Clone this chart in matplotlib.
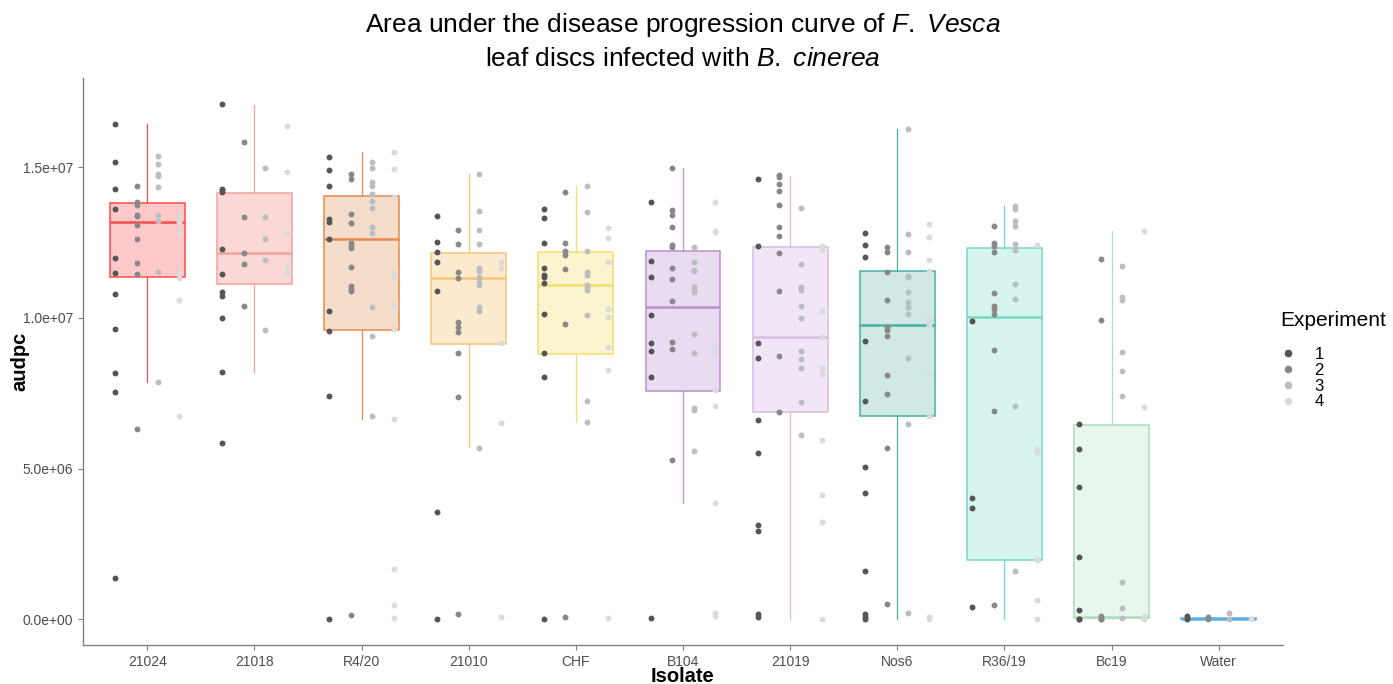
import numpy as np
import matplotlib.pyplot as plt
from matplotlib.lines import Line2D
from matplotlib.ticker import FuncFormatter

plt.rcParams['font.family'] = ['Liberation Sans', 'DejaVu Sans']
plt.rcParams['mathtext.fontset'] = 'custom'
plt.rcParams['mathtext.rm'] = 'Liberation Sans'
plt.rcParams['mathtext.it'] = 'Liberation Sans:italic'

# isolates and audpc values (x 1e6), one list per experiment 1..4
isolates = ['21024', '21018', 'R4/20', '21010', 'CHF', 'B104', '21019', 'Nos6', 'R36/19', 'Bc19', 'Water']
experiments = ['1', '2', '3', '4']

a21024 = [[16.43, 15.16, 14.29, 13.61, 11.98, 11.48, 10.79, 9.63, 8.16, 7.55, 1.37],
          [14.39, 13.86, 13.75, 13.40, 13.38, 13.07, 12.63, 11.81, 11.45, 6.30],
          [15.37, 15.09, 14.79, 14.72, 14.34, 13.40, 13.21, 11.51, 7.87],
          [13.38, 13.19, 12.82, 11.51, 11.31, 10.59, 6.73]]
a21018 = [[17.10, 14.29, 14.23, 14.18, 12.30, 11.46, 10.85, 10.73, 9.98, 8.20, 5.85],
          [15.84, 13.34, 12.15, 11.80, 10.38],
          [14.98, 13.36, 12.61, 11.91, 9.59],
          [16.38, 14.85, 12.82, 11.69, 11.48]]
aR420 = [[15.34, 14.90, 14.39, 13.28, 13.17, 12.63, 10.22, 9.55, 7.41, 0.0],
         [14.77, 14.61, 13.46, 13.16, 12.47, 12.40, 12.33, 11.68, 11.06, 10.96, 10.88, 0.15],
         [15.16, 14.97, 14.50, 14.39, 14.10, 13.89, 13.63, 13.02, 12.83, 10.37, 9.40, 6.75],
         [15.49, 14.93, 14.01, 11.48, 11.37, 10.42, 9.62, 6.65, 1.66, 0.46, 0.03]]
a21010 = [[13.39, 12.53, 12.17, 11.86, 10.88, 3.56, 0.0],
          [12.90, 12.44, 11.53, 11.32, 9.87, 9.70, 9.52, 8.83, 7.39, 0.17],
          [14.77, 13.54, 12.92, 12.46, 11.64, 11.54, 11.37, 11.19, 11.10, 10.36, 10.23, 5.67],
          [11.87, 11.64, 9.15, 6.50, 0.08]]
aCHF = [[13.61, 13.33, 12.48, 11.64, 11.43, 11.35, 11.15, 10.13, 8.82, 8.04, 0.0],
        [14.19, 12.48, 12.23, 12.08, 11.61, 9.79, 0.08],
        [14.39, 13.53, 12.22, 11.52, 11.43, 11.10, 11.01, 10.92, 10.10, 7.23, 6.53],
        [12.98, 12.66, 11.86, 10.30, 10.03, 9.04, 8.28, 0.03]]
aB104 = [[13.86, 11.88, 11.35, 10.10, 9.15, 8.91, 8.03, 0.03],
         [14.98, 13.58, 13.41, 13.03, 12.41, 12.35, 11.67, 11.28, 10.57, 9.20, 8.96, 5.27],
         [12.35, 11.86, 11.60, 11.57, 11.02, 10.94, 10.85, 9.48, 8.82, 7.02, 6.93, 5.58],
         [13.85, 12.89, 12.84, 9.10, 8.87, 7.62, 7.09, 3.86, 0.20, 0.12]]
a21019 = [[14.61, 12.39, 9.15, 8.67, 6.60, 5.53, 3.14, 2.94, 0.17, 0.06],
          [14.73, 14.68, 14.43, 14.21, 13.75, 13.03, 12.71, 12.15, 10.90, 8.75, 6.89],
          [13.65, 11.78, 11.04, 10.93, 10.39, 10.01, 8.91, 8.62, 8.33, 7.20, 6.11],
          [12.38, 12.24, 10.24, 9.36, 8.33, 8.13, 5.96, 4.12, 3.24, 0.0]]
aNos6 = [[12.83, 12.41, 12.03, 9.22, 7.24, 5.05, 4.18, 1.59, 0.17, 0.09, 0.0],
         [12.34, 12.20, 11.53, 10.59, 9.69, 9.61, 9.40, 8.09, 7.46, 5.67, 0.52],
         [16.26, 12.77, 12.17, 11.40, 11.37, 10.87, 10.52, 10.37, 10.14, 8.67, 6.49, 0.20],
         [13.10, 12.70, 11.91, 11.57, 10.03, 9.92, 9.78, 8.18, 6.75, 0.08, 0.0]]
aR3619 = [[9.90, 4.01, 3.68, 0.41],
          [13.06, 12.48, 12.40, 12.20, 10.82, 10.39, 10.28, 10.14, 8.93, 6.91, 0.46],
          [13.70, 13.62, 13.20, 13.06, 12.45, 12.26, 11.14, 10.63, 7.08, 1.61],
          [12.42, 5.64, 5.56, 1.98, 0.65, 0.0]]
aBc19 = [[6.47, 5.65, 4.40, 2.06, 0.31, 0.0, 0.0],
         [11.97, 9.94, 0.10, 0.02, 0.0],
         [11.73, 10.70, 10.60, 8.87, 8.25, 7.42, 1.22, 0.37, 0.05],
         [12.87, 7.05, 0.10, 0.02]]
aWater = [[0.10, 0.0], [0.07, 0.0], [0.22, 0.02], [0.01]]

# box statistics (x 1e6)
q1 = [11.37, 11.14, 9.59, 9.14, 8.81, 7.58, 6.88, 6.73, 1.97, 0.03, 0.0]
med = [13.19, 12.15, 12.63, 11.31, 11.10, 10.36, 9.37, 9.77, 10.02, 0.06, 0.0]
q3 = [13.82, 14.16, 14.06, 12.16, 12.19, 12.22, 12.34, 11.54, 12.33, 6.46, 0.03]
whislo = [7.87, 8.20, 6.65, 5.70, 6.55, 3.85, 0.0, 0.0, 0.0, 0.0, 0.0]
whishi = [16.43, 17.08, 15.49, 14.77, 14.36, 14.98, 14.70, 16.26, 13.70, 12.87, 0.05]

values = [a21024, a21018, aR420, a21010, aCHF, aB104, a21019, aNos6, aR3619, aBc19, aWater]

edge_cols = ['#FF4D4D', '#F4A29B', '#E8894F', '#F8C477', '#F7DC6F', '#BB8FCE',
             '#D7BDE2', '#45B39D', '#76D7C4', '#A9DFBF', '#5DADE2']
fill_cols = ['#FFC9C9', '#F9D8D5', '#F5DDCB', '#FDEBD0', '#FCF3CF', '#E9DBF0',
             '#F1E6F6', '#D0E9E4', '#D8F4EE', '#E8F6EC', '#D6EAF8']
pt_cols = ['#555555', '#888888', '#BABDC1', '#DADBDD']
offsets = [-0.3, -0.1, 0.1, 0.3]

fig = plt.figure(figsize=(13.93, 6.84), dpi=100)
ax = fig.add_axes([83 / 1393, 39 / 684, 1200 / 1393, 567 / 684])

pos = np.arange(1, len(isolates) + 1)
stats = []
for i in range(len(isolates)):
    stats.append(dict(q1=q1[i] * 1e6, med=med[i] * 1e6, q3=q3[i] * 1e6,
                      whislo=whislo[i] * 1e6, whishi=whishi[i] * 1e6))
bp = ax.bxp(stats, positions=pos, widths=0.7, patch_artist=True,
            showcaps=False, showfliers=False)
for i in range(len(isolates)):
    bp['boxes'][i].set_facecolor(fill_cols[i])
    bp['boxes'][i].set_edgecolor(edge_cols[i])
    bp['boxes'][i].set_linewidth(1.1)
    bp['medians'][i].set_color(edge_cols[i])
    bp['medians'][i].set_linewidth(1.8)
    for w in bp['whiskers'][2 * i:2 * i + 2]:
        w.set_color(edge_cols[i])
        w.set_linewidth(0.9)

for i, iso in enumerate(values):
    for j, v in enumerate(iso):
        v = np.array(v) * 1e6
        ax.scatter(np.full(len(v), pos[i] + offsets[j]), v, s=18,
                   color=pt_cols[j], linewidths=0, zorder=3)

ax.set_xlim(0.4, 11.6)
ax.set_ylim(-0.855e6, 17.96e6)
ax.set_xticks(pos)
ax.set_xticklabels(isolates)
ax.set_yticks([0, 5e6, 10e6, 15e6])
ax.yaxis.set_major_formatter(FuncFormatter(lambda y, p: '%.1e' % y))
ax.tick_params(labelsize=10, labelcolor='#4d4d4d', color='#7f7f7f', length=3.5, width=0.8)
for s in ['top', 'right']:
    ax.spines[s].set_visible(False)
for s in ['left', 'bottom']:
    ax.spines[s].set_color('#808080')
    ax.spines[s].set_linewidth(1.0)

ax.set_xlabel('Isolate', fontsize=14.5, fontweight='bold', va='center')
ax.set_ylabel('audpc', fontsize=14.5, fontweight='bold', va='center')
ax.xaxis.set_label_coords(0.5, -32 / 567)
ax.yaxis.set_label_coords(-63 / 1200, 0.5)

fig.text(683 / 1393, 1 - 25 / 684, r'Area under the disease progression curve of $F.\ Vesca$',
         ha='center', va='center', fontsize=19)
fig.text(683 / 1393, 1 - 59 / 684, r'leaf discs infected with $B.\ cinerea$',
         ha='center', va='center', fontsize=19)

handles = [Line2D([], [], marker='o', ls='', color=c, markersize=5.5, markeredgewidth=0)
           for c in pt_cols]
fig.text(1280 / 1393, 1 - 320 / 684, 'Experiment', fontsize=15, va='center', ha='left')
fig.legend(handles, experiments, loc='upper left',
           bbox_to_anchor=(1266 / 1393, 1 - 332 / 684), frameon=False,
           fontsize=12, labelspacing=0.05, handlelength=0.8,
           handletextpad=1.2)

fig.savefig('out.png', dpi=100)
